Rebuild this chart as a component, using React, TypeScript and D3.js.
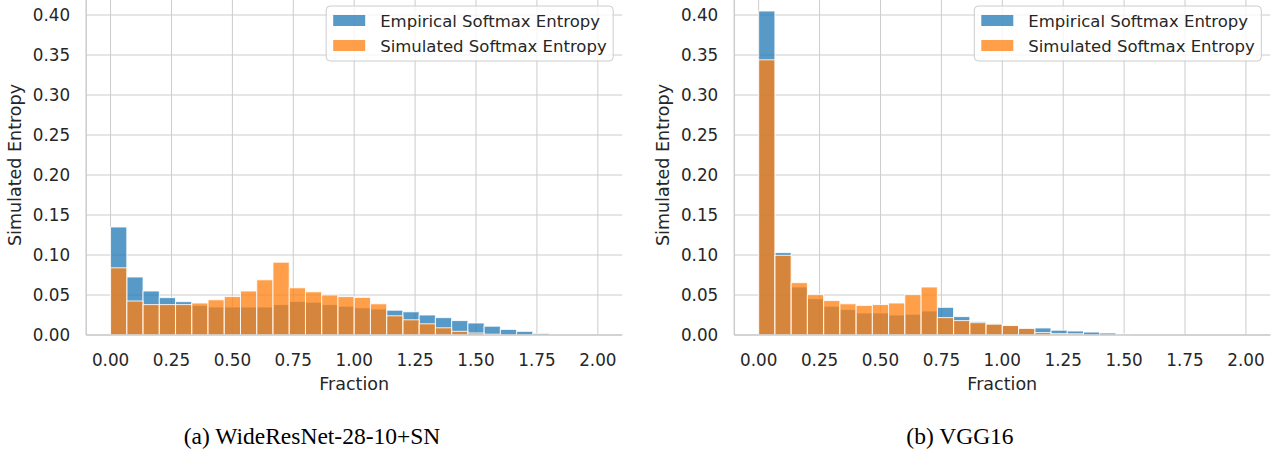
import * as d3 from "d3";

// histogram bins: 30 bins of equal width over [0, 2]
const binCount = 30;
const binWidth = 2 / binCount;
const binStarts = d3.range(binCount).map((i) => i * binWidth);

// (a) WideResNet-28-10+SN
const wrnEmpirical = [
  0.135, 0.0725, 0.055, 0.0467, 0.0417, 0.037, 0.035, 0.035, 0.035, 0.035,
  0.038, 0.042, 0.041, 0.038, 0.036, 0.034, 0.0325, 0.031, 0.029, 0.025,
  0.0217, 0.018, 0.015, 0.011, 0.007, 0.0046, 0.002, 0, 0, 0,
];
const wrnSimulated = [
  0.084, 0.0425, 0.038, 0.038, 0.038, 0.04, 0.044, 0.048, 0.055, 0.069,
  0.091, 0.059, 0.054, 0.05, 0.048, 0.047, 0.039, 0.024, 0.019, 0.014,
  0.009, 0.0046, 0.0025, 0.001, 0, 0, 0, 0, 0, 0,
];

// (b) VGG16
const vggEmpirical = [
  0.405, 0.103, 0.06, 0.0454, 0.036, 0.032, 0.0275, 0.0275, 0.025, 0.026,
  0.03, 0.0346, 0.023, 0.0167, 0.014, 0.012, 0.0085, 0.0088, 0.006, 0.005,
  0.0037, 0.0025, 0.0012, 0, 0, 0, 0, 0, 0, 0,
];
const vggSimulated = [
  0.344, 0.0996, 0.0654, 0.0504, 0.043, 0.039, 0.037, 0.038, 0.04, 0.0504,
  0.06, 0.0217, 0.018, 0.0154, 0.0135, 0.0118, 0.0082, 0.003, 0.0017, 0.0015,
  0, 0, 0, 0, 0, 0, 0, 0, 0, 0,
];

const xTicks = [0, 0.25, 0.5, 0.75, 1, 1.25, 1.5, 1.75, 2];
const yTicks = [0, 0.05, 0.1, 0.15, 0.2, 0.25, 0.3, 0.35, 0.4];
const seriesNames = ["Empirical Softmax Entropy", "Simulated Softmax Entropy"];
const seriesColors = ["#1f77b4", "#ff7f0e"];
const captions = ["(a) WideResNet-28-10+SN", "(b) VGG16"];

const font = "DejaVu Sans";
const textColor = "#262626";
const gridColor = "#cccccc";
const fmt = d3.format(".2f");

function Panel({ left, right, empirical, simulated, caption, captionX }) {
  const top = -5;
  const bottom = 335;
  const x = d3.scaleLinear().domain([-0.1, 2.1]).range([left, right]);
  const y = d3.scaleLinear().domain([0, 0.425]).range([bottom, top]);
  const series = [empirical, simulated];

  const legendW = 287;
  const legendX = right - 9 - legendW;

  return (
    <g>
      {/* grid */}
      {xTicks.map((t) => (
        <line key={"gx" + t} x1={x(t)} x2={x(t)} y1={top} y2={bottom} stroke={gridColor} strokeWidth={1} />
      ))}
      {yTicks.map((t) => (
        <line key={"gy" + t} x1={left} x2={right} y1={y(t)} y2={y(t)} stroke={gridColor} strokeWidth={1} />
      ))}

      {/* bars, empirical first then simulated on top */}
      {series.map((vals, s) => (
        <g key={"s" + s}>
          {vals.map((v, i) =>
            v > 0 ? (
              <rect
                key={i}
                x={x(binStarts[i])}
                y={y(v)}
                width={x(binStarts[i] + binWidth) - x(binStarts[i])}
                height={y(0) - y(v)}
                fill={seriesColors[s]}
                fillOpacity={0.75}
                stroke="#ffffff"
                strokeOpacity={0.85}
                strokeWidth={1}
              />
            ) : null
          )}
        </g>
      ))}

      {/* spines */}
      <line x1={left} x2={right} y1={bottom} y2={bottom} stroke={gridColor} strokeWidth={1.5} />
      <line x1={left} x2={left} y1={top} y2={bottom} stroke={gridColor} strokeWidth={1.5} />

      {/* tick labels */}
      {xTicks.map((t) => (
        <text key={"tx" + t} x={x(t)} y={366} textAnchor="middle" fontSize={16.8} fontFamily={font} fill={textColor}>
          {fmt(t)}
        </text>
      ))}
      {yTicks.map((t) => (
        <text key={"ty" + t} x={left - 16} y={y(t) + 6} textAnchor="end" fontSize={16.8} fontFamily={font} fill={textColor}>
          {fmt(t)}
        </text>
      ))}

      {/* axis labels */}
      <text x={(left + right) / 2} y={389.5} textAnchor="middle" fontSize={17.5} fontFamily={font} fill={textColor}>
        Fraction
      </text>
      <text
        transform={`translate(${left - 65.5},${(top + bottom) / 2}) rotate(-90)`}
        textAnchor="middle"
        fontSize={17.5}
        fontFamily={font}
        fill={textColor}
      >
        Simulated Entropy
      </text>

      {/* legend */}
      <rect x={legendX} y={6} width={legendW} height={55} rx={4} fill="#ffffff" fillOpacity={0.8} stroke={gridColor} strokeWidth={1} />
      {seriesNames.map((name, s) => (
        <g key={"l" + s}>
          <rect x={legendX + 7} y={15 + s * 25} width={32} height={11} fill={seriesColors[s]} fillOpacity={0.75} />
          <text x={legendX + 54} y={26.5 + s * 25} fontSize={16.5} fontFamily={font} fill={textColor}>
            {name}
          </text>
        </g>
      ))}

      {/* caption */}
      <text x={captionX} y={444} textAnchor="middle" fontSize={23.5} fontFamily="Liberation Serif" fill="#000000">
        {caption}
      </text>
    </g>
  );
}

export default function App() {
  return (
    <svg width={1278} height={454} style={{ position: "absolute", left: 0, top: 0, background: "#ffffff" }}>
      <rect x={0} y={0} width={1278} height={454} fill="#ffffff" />
      <Panel left={86.2} right={622.2} empirical={wrnEmpirical} simulated={wrnSimulated} caption={captions[0]} captionX={312} />
      <Panel left={734.3} right={1270.3} empirical={vggEmpirical} simulated={vggSimulated} caption={captions[1]} captionX={960} />
    </svg>
  );
}
